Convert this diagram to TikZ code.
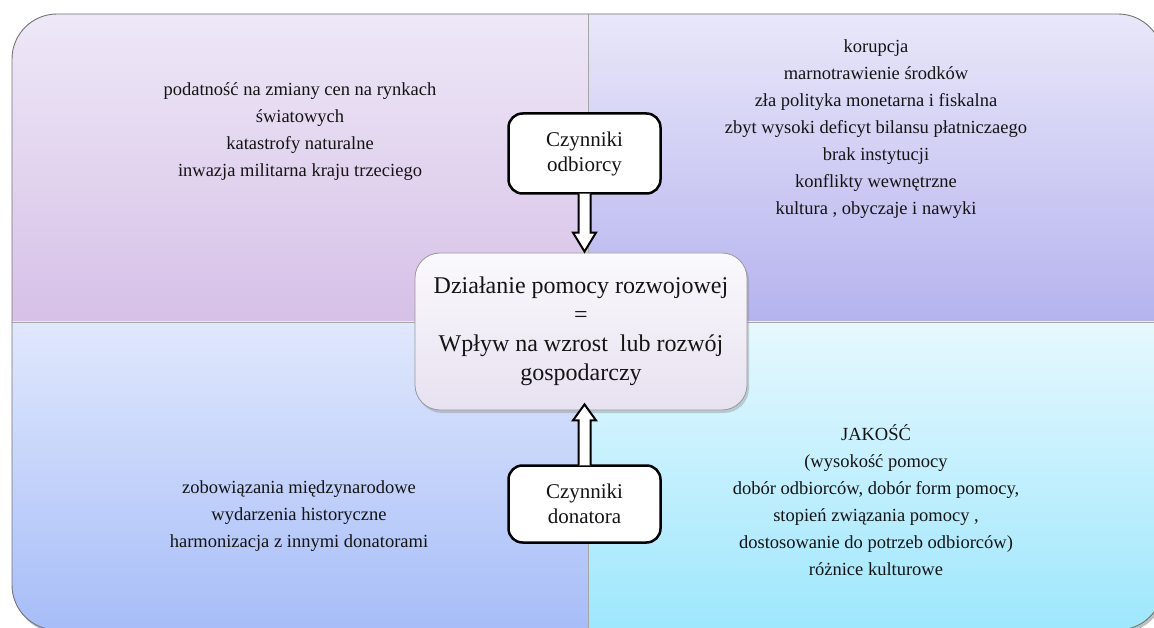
\documentclass[tikz,border=0pt]{standalone}
\usepackage{fontspec}
\setmainfont{Liberation Serif}
\usetikzlibrary{calc,shadows}

\definecolor{tlTop}{HTML}{EEE8F7}
\definecolor{tlBot}{HTML}{D6C0E7}
\definecolor{trTop}{HTML}{E9E7F9}
\definecolor{trBot}{HTML}{B5B3EE}
\definecolor{blTop}{HTML}{E0E8FC}
\definecolor{blBot}{HTML}{A7BDF8}
\definecolor{brTop}{HTML}{E6F8FE}
\definecolor{brBot}{HTML}{9EE7FD}
\definecolor{boxTop}{HTML}{FAF9FD}
\definecolor{boxBot}{HTML}{E7E1F0}
\definecolor{inkc}{HTML}{141414}

\tikzset{
  frameline/.style={draw=black!55, line width=0.9pt},
  divline/.style={draw=black!35, line width=0.7pt},
  quadtext/.style={text=inkc, align=center, inner sep=0pt,
    font=\fontsize{18.5}{27}\selectfont},
  mainbox/.style={draw=black!40, line width=0.8pt, rounded corners=25pt,
    top color=boxTop, bottom color=boxBot, text=inkc,
    minimum width=332pt, minimum height=157pt, inner sep=0pt, align=center,
    font=\fontsize{24}{29}\selectfont,
    drop shadow={opacity=0.35, shadow xshift=2pt, shadow yshift=-3pt}},
  factorbox/.style={draw=black, line width=2.5pt, fill=white, rounded corners=14pt,
    minimum width=152pt, inner sep=0pt, align=center, text=inkc,
    font=\fontsize{21}{25}\selectfont},
  blockarrow/.style={draw=black, line width=2pt, fill=white, line join=miter}
}

\begin{document}
\begin{tikzpicture}[x=1pt,y=-1pt]
\useasboundingbox (0,0) rectangle (1154,628);
\clip (0,0) rectangle (1154,628);

% frame carrying the four panels, with its shadow
\path[fill=white, rounded corners=45pt,
  drop shadow={opacity=0.5, shadow xshift=2pt, shadow yshift=-3pt}]
  (12,14) rectangle (1163,630);
\begin{scope}
  \clip[rounded corners=45pt] (12,14) rectangle (1163,630);
  \shade[top color=tlTop, bottom color=tlBot] (12,14) rectangle (588,322);
  \shade[top color=trTop, bottom color=trBot] (588,14) rectangle (1163,322);
  \shade[top color=blTop, bottom color=blBot] (12,322) rectangle (588,630);
  \shade[top color=brTop, bottom color=brBot] (588,322) rectangle (1163,630);
  \draw[divline] (588,14) -- (588,630);
  \draw[divline] (12,322) -- (1163,322);
\end{scope}
\draw[frameline, rounded corners=45pt] (12,14) rectangle (1163,630);

% panel texts, each placed by the baseline of its last line
\node[quadtext, anchor=base] (tl) at (300,177)
  {podatność na zmiany cen na rynkach\\światowych\\katastrofy naturalne\\inwazja militarna kraju trzeciego};
\node[quadtext, anchor=base] (tr) at (876,215)
  {korupcja\\marnotrawienie środków\\zła polityka monetarna i fiskalna\\zbyt wysoki deficyt bilansu płatniczaego\\brak instytucji\\konflikty wewnętrzne\\kultura , obyczaje i nawyki};
\node[quadtext, anchor=base] (bl) at (299,547)
  {zobowiązania międzynarodowe\\wydarzenia historyczne\\harmonizacja z innymi donatorami};
\node[quadtext, anchor=base] (br) at (876,575)
  {JAKOŚĆ\\(wysokość pomocy\\dobór odbiorców, dobór form pomocy,\\stopień związania pomocy ,\\ dostosowanie do potrzeb odbiorców)\\różnice kulturowe};

% central statement
\node[mainbox] (main) at (581,331.5)
  {Działanie pomocy rozwojowej\\=\\Wpływ na wzrost\ \ lub rozwój\\gospodarczy};

% factor boxes
\node[factorbox, minimum height=80pt] (odb) at (584.5,153.5) {Czynniki\\odbiorcy};
\node[factorbox, minimum height=77pt] (don) at (584.5,504) {Czynniki\\donatora};

% block arrows into the central statement
\coordinate (t1) at (odb.south |- main.north);
\draw[blockarrow] ($(odb.south)+(-6,-1)$) -- ($(t1)+(-6,-20)$) -- ($(t1)+(-11.5,-20)$)
  -- ($(t1)+(0,-1)$) -- ($(t1)+(11.5,-20)$) -- ($(t1)+(6,-20)$) -- ($(odb.south)+(6,-1)$);
\coordinate (t2) at ($(don.north |- main.south)+(0,-6)$);
\draw[blockarrow] ($(don.north)+(-6,1)$) -- ($(t2)+(-6,16)$) -- ($(t2)+(-11.5,16)$)
  -- (t2) -- ($(t2)+(11.5,16)$) -- ($(t2)+(6,16)$) -- ($(don.north)+(6,1)$);
\end{tikzpicture}
\end{document}
